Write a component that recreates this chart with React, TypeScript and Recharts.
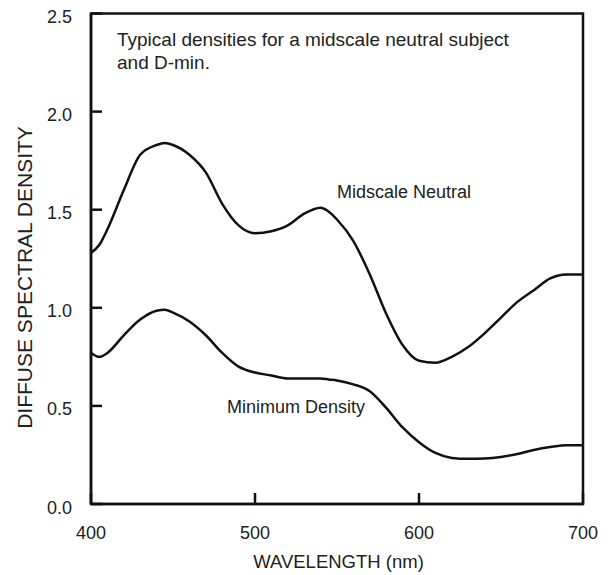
import React from "react";
import { LineChart, Line, XAxis, YAxis, ReferenceArea } from "recharts";

const wavelengths = [400, 405, 410, 420, 430, 440, 445, 450, 460, 470, 480, 490, 500, 510, 520, 530, 540, 545, 550, 560, 570, 580, 590, 600, 610, 620, 630, 640, 650, 660, 670, 680, 690, 700];
const midscaleNeutral = [1.28, 1.32, 1.40, 1.60, 1.78, 1.83, 1.84, 1.83, 1.78, 1.69, 1.53, 1.42, 1.38, 1.39, 1.42, 1.48, 1.51, 1.49, 1.45, 1.34, 1.17, 0.97, 0.81, 0.73, 0.72, 0.75, 0.80, 0.87, 0.95, 1.03, 1.09, 1.15, 1.17, 1.17];
const minimumDensity = [0.77, 0.75, 0.77, 0.86, 0.94, 0.985, 0.99, 0.975, 0.93, 0.86, 0.77, 0.70, 0.67, 0.655, 0.64, 0.64, 0.64, 0.635, 0.63, 0.61, 0.575, 0.49, 0.39, 0.315, 0.26, 0.235, 0.23, 0.232, 0.24, 0.255, 0.275, 0.29, 0.30, 0.30];
const xTicks = [400, 500, 600, 700];
const yTicks = [0, 0.5, 1.0, 1.5, 2.0, 2.5];

const data = wavelengths.map((w, i) => ({ w, mid: midscaleNeutral[i], min: minimumDensity[i] }));

const FONT = "'Liberation Sans', Arial, Helvetica, sans-serif";
const INK = "#111";
const TXT = "#222";

const XTick = (props: any) => {
  const { x, y, payload } = props;
  return (
    <g>
      <line x1={x} x2={x} y1={y - 35} y2={y - 46} stroke={INK} strokeWidth={2.5} />
      <text x={x} y={y} textAnchor="middle" fontSize={18} fontFamily={FONT} fill={TXT}>
        {payload.value}
      </text>
    </g>
  );
};

const YTick = (props: any) => {
  const { x, y, payload } = props;
  return (
    <g>
      <line x1={x + 19} x2={x + 30} y1={y} y2={y} stroke={INK} strokeWidth={2.5} />
      <text x={x} y={y + 9.5} textAnchor="end" fontSize={18} fontFamily={FONT} fill={TXT}>
        {Number(payload.value).toFixed(1)}
      </text>
    </g>
  );
};

export default function App() {
  return (
    <div style={{ position: "absolute", left: 0, top: 0, background: "#fff" }}>
      <LineChart width={610} height={575} data={data} margin={{ top: 13.5, right: 27, bottom: 41, left: 31 }}>
        <XAxis
          dataKey="w"
          type="number"
          domain={[400, 700]}
          ticks={xTicks}
          tickSize={0}
          tickMargin={35}
          tick={<XTick />}
          tickLine={false}
          axisLine={{ stroke: INK, strokeWidth: 2.5 }}
          height={30}
        />
        <YAxis
          type="number"
          domain={[0, 2.5]}
          ticks={yTicks}
          tickSize={0}
          tickMargin={19}
          tick={<YTick />}
          width={60}
          tickLine={false}
          axisLine={{ stroke: INK, strokeWidth: 2.5 }}
        />
        <ReferenceArea x1={400} x2={700} y1={0} y2={2.5} fill="none" stroke={INK} strokeWidth={2.5} ifOverflow="visible" />
        <Line type="monotone" dataKey="mid" stroke={INK} strokeWidth={2.5} dot={false} isAnimationActive={false} />
        <Line type="monotone" dataKey="min" stroke={INK} strokeWidth={2.5} dot={false} isAnimationActive={false} />
        <text x={117} y={46} fontSize={19} fontFamily={FONT} fill={TXT}>Typical densities for a midscale neutral subject</text>
        <text x={117} y={69} fontSize={19} fontFamily={FONT} fill={TXT}>and D-min.</text>
        <text x={337} y={198} fontSize={18} fontFamily={FONT} fill={TXT}>Midscale Neutral</text>
        <text x={227} y={413} fontSize={18} fontFamily={FONT} fill={TXT}>Minimum Density</text>
        <text x={338.5} y={568} textAnchor="middle" fontSize={18.5} fontFamily={FONT} fill={TXT}>WAVELENGTH (nm)</text>
        <text x={32} y={277.5} textAnchor="middle" fontSize={21} fontFamily={FONT} fill={TXT} transform="rotate(-90, 32, 277.5)">DIFFUSE SPECTRAL DENSITY</text>
      </LineChart>
    </div>
  );
}
